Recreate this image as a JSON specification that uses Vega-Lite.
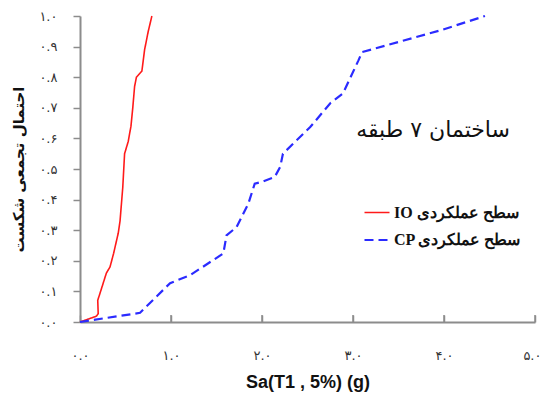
{
  "$schema": "https://vega.github.io/schema/vega-lite/v6.json",
  "width": 455,
  "height": 306,
  "autosize": {"type": "none"},
  "padding": {"left": 80, "top": 16, "right": 7, "bottom": 74},
  "background": "white",
  "config": {"view": {"stroke": null}, "font": "DejaVu Sans"},
  "datasets": {
    "curves": [
      {"series": "IO", "i": 0, "x": 0, "y": 0},
      {"series": "IO", "i": 1, "x": 0.18, "y": 0.019},
      {"series": "IO", "i": 2, "x": 0.2, "y": 0.027},
      {"series": "IO", "i": 3, "x": 0.195, "y": 0.071},
      {"series": "IO", "i": 4, "x": 0.22, "y": 0.094},
      {"series": "IO", "i": 5, "x": 0.29, "y": 0.16},
      {"series": "IO", "i": 6, "x": 0.33, "y": 0.18},
      {"series": "IO", "i": 7, "x": 0.37, "y": 0.225},
      {"series": "IO", "i": 8, "x": 0.42, "y": 0.29},
      {"series": "IO", "i": 9, "x": 0.44, "y": 0.33},
      {"series": "IO", "i": 10, "x": 0.47, "y": 0.44},
      {"series": "IO", "i": 11, "x": 0.49, "y": 0.55},
      {"series": "IO", "i": 12, "x": 0.53, "y": 0.59},
      {"series": "IO", "i": 13, "x": 0.56, "y": 0.64},
      {"series": "IO", "i": 14, "x": 0.58, "y": 0.7},
      {"series": "IO", "i": 15, "x": 0.6, "y": 0.77},
      {"series": "IO", "i": 16, "x": 0.62, "y": 0.8},
      {"series": "IO", "i": 17, "x": 0.68, "y": 0.82},
      {"series": "IO", "i": 18, "x": 0.71, "y": 0.89},
      {"series": "IO", "i": 19, "x": 0.75, "y": 0.95},
      {"series": "IO", "i": 20, "x": 0.79, "y": 1.0},
      {"series": "CP", "i": 0, "x": 0, "y": 0},
      {"series": "CP", "i": 1, "x": 0.66, "y": 0.03},
      {"series": "CP", "i": 2, "x": 0.99, "y": 0.127},
      {"series": "CP", "i": 3, "x": 1.21, "y": 0.153},
      {"series": "CP", "i": 4, "x": 1.575, "y": 0.224},
      {"series": "CP", "i": 5, "x": 1.61, "y": 0.283},
      {"series": "CP", "i": 6, "x": 1.72, "y": 0.31},
      {"series": "CP", "i": 7, "x": 1.85, "y": 0.387},
      {"series": "CP", "i": 8, "x": 1.92, "y": 0.452},
      {"series": "CP", "i": 9, "x": 2.0, "y": 0.458},
      {"series": "CP", "i": 10, "x": 2.14, "y": 0.474},
      {"series": "CP", "i": 11, "x": 2.2, "y": 0.507},
      {"series": "CP", "i": 12, "x": 2.23, "y": 0.55},
      {"series": "CP", "i": 13, "x": 2.53, "y": 0.637},
      {"series": "CP", "i": 14, "x": 2.75, "y": 0.715},
      {"series": "CP", "i": 15, "x": 2.89, "y": 0.747},
      {"series": "CP", "i": 16, "x": 3.06, "y": 0.855},
      {"series": "CP", "i": 17, "x": 3.1, "y": 0.882},
      {"series": "CP", "i": 18, "x": 3.96, "y": 0.953},
      {"series": "CP", "i": 19, "x": 4.45, "y": 1.0}
    ],
    "note": [
      {"x": 3.88, "y": 0.626, "label": "ساختمان ۷ طبقه"}
    ],
    "xticks": [
      {"x": 1, "y0": 0, "y1": 0.023},
      {"x": 2, "y0": 0, "y1": 0.023},
      {"x": 3, "y0": 0, "y1": 0.023},
      {"x": 4, "y0": 0, "y1": 0.023},
      {"x": 5, "y0": 0, "y1": 0.023}
    ]
  },
  "layer": [
    {
      "data": {"name": "xticks"},
      "mark": {"type": "rule", "color": "#8c8c8c", "strokeWidth": 1.5},
      "encoding": {
        "x": {"field": "x", "type": "quantitative"},
        "y": {"field": "y0", "type": "quantitative"},
        "y2": {"field": "y1"}
      }
    },
    {
      "data": {"name": "curves"},
      "mark": {"type": "line"},
      "encoding": {
        "x": {
          "field": "x", "type": "quantitative",
          "scale": {"domain": [0, 5], "nice": false, "zero": false},
          "axis": {
            "values": [0, 1, 2, 3, 4, 5],
            "tickCount": 20,
            "labelExpr": "['۰.۰','۱.۰','۲.۰','۳.۰','۴.۰','۵.۰'][round(datum.value)]",
            "grid": false,
            "domainColor": "#8c8c8c", "domainWidth": 2,
            "tickColor": "#8c8c8c", "tickWidth": 1.5, "tickSize": -7,
            "labelFontSize": 13, "labelColor": "#333333", "labelPadding": 34,
            "labelFlush": false, "labelOverlap": false,
            "labelAlign": {"condition": {"test": "datum.value == 5", "value": "right"}, "value": "center"},
            "labelOffset": {"condition": {"test": "datum.value == 5", "value": 6}, "value": 0},
            "title": "Sa(T1 , 5%) (g)",
            "titleFont": "Liberation Sans", "titleFontSize": 18, "titleFontWeight": "bold",
            "titleColor": "#111111", "titlePadding": 11
          }
        },
        "y": {
          "field": "y", "type": "quantitative",
          "scale": {"domain": [0, 1], "nice": false},
          "axis": {
            "values": [0, 0.1, 0.2, 0.3, 0.4, 0.5, 0.6, 0.7, 0.8, 0.9, 1.0],
            "tickCount": 20,
            "labelExpr": "['۰.۰','۰.۱','۰.۲','۰.۳','۰.۴','۰.۵','۰.۶','۰.۷','۰.۸','۰.۹','۱.۰'][round(datum.value*10)]",
            "grid": false,
            "domainColor": "#8c8c8c", "domainWidth": 2,
            "tickColor": "#8c8c8c", "tickWidth": 1.5, "tickSize": 7,
            "labelFontSize": 13, "labelColor": "#333333", "labelPadding": 16,
            "labelFlush": false, "labelOverlap": false,
            "title": "احتمال تجمعی شکست",
            "titleFontSize": 15, "titleFontWeight": "bold",
            "titleColor": "#111111", "titlePadding": 12
          }
        },
        "order": {"field": "i", "type": "quantitative"},
        "strokeWidth": {
          "field": "series", "type": "nominal",
          "scale": {"domain": ["IO", "CP"], "range": [1.6, 2.2]},
          "legend": null
        },
        "color": {
          "field": "series", "type": "nominal",
          "scale": {"domain": ["IO", "CP"], "range": ["#ff1a1a", "#2b2bff"]},
          "legend": {
            "title": null, "orient": "none", "legendX": 283, "legendY": 183,
            "symbolType": "stroke", "symbolSize": 625, "symbolStrokeWidth": 2,
            "labelExpr": "datum.label + ' سطح عملکردی'",
            "labelFont": "Liberation Serif", "labelFontSize": 16, "labelFontWeight": "bold",
            "labelColor": "#111111", "labelOffset": 3, "rowPadding": 5
          }
        },
        "strokeDash": {
          "field": "series", "type": "nominal",
          "scale": {"domain": ["IO", "CP"], "range": [[1, 0], [9, 5]]},
          "legend": {
            "title": null, "orient": "none", "legendX": 283, "legendY": 183,
            "symbolType": "stroke", "symbolSize": 625, "symbolStrokeWidth": 2,
            "labelExpr": "datum.label + ' سطح عملکردی'",
            "labelFont": "Liberation Serif", "labelFontSize": 16, "labelFontWeight": "bold",
            "labelColor": "#111111", "labelOffset": 3, "rowPadding": 5
          }
        }
      }
    },
    {
      "data": {"name": "note"},
      "mark": {"type": "text", "fontSize": 22, "color": "#111111", "align": "center", "baseline": "middle"},
      "encoding": {
        "x": {"field": "x", "type": "quantitative"},
        "y": {"field": "y", "type": "quantitative"},
        "text": {"field": "label"}
      }
    }
  ]
}
